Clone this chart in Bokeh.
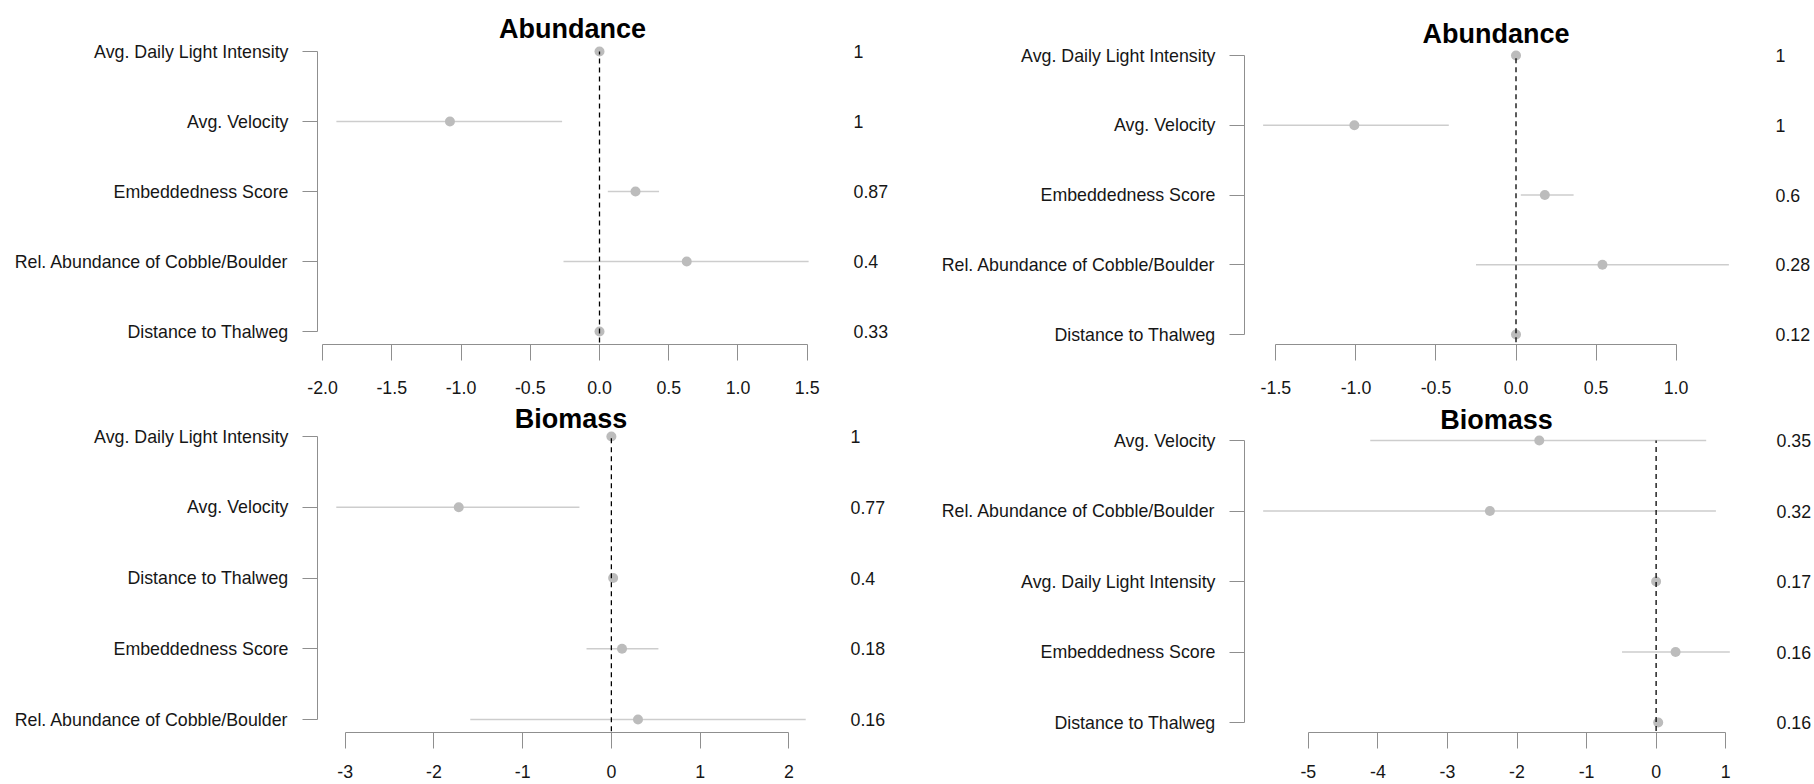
from bokeh.plotting import figure
from bokeh.models import ColumnDataSource, FixedTicker, LinearAxis, Range1d
from bokeh.layouts import column, row
from bokeh.embed import file_html
from bokeh.resources import INLINE

# ---------------- data ----------------
titles = ["Abundance", "Abundance", "Biomass", "Biomass"]

p1_vars = ["Avg. Daily Light Intensity", "Avg. Velocity", "Embeddedness Score",
           "Rel. Abundance of Cobble/Boulder", "Distance to Thalweg"]
p1_est = [0.0, -1.08, 0.26, 0.63, 0.0]
p1_lo = [-0.01, -1.90, 0.06, -0.26, -0.01]
p1_hi = [0.01, -0.27, 0.43, 1.51, 0.01]
p1_prob = ["1", "1", "0.87", "0.4", "0.33"]
p1_ticks = [-2.0, -1.5, -1.0, -0.5, 0.0, 0.5, 1.0, 1.5]
p1_tick_labels = ["-2.0", "-1.5", "-1.0", "-0.5", "0.0", "0.5", "1.0", "1.5"]

p2_vars = ["Avg. Daily Light Intensity", "Avg. Velocity", "Embeddedness Score",
           "Rel. Abundance of Cobble/Boulder", "Distance to Thalweg"]
p2_est = [0.0, -1.01, 0.18, 0.54, 0.0]
p2_lo = [-0.01, -1.58, 0.03, -0.25, -0.01]
p2_hi = [0.01, -0.42, 0.36, 1.33, 0.01]
p2_prob = ["1", "1", "0.6", "0.28", "0.12"]
p2_ticks = [-1.5, -1.0, -0.5, 0.0, 0.5, 1.0]
p2_tick_labels = ["-1.5", "-1.0", "-0.5", "0.0", "0.5", "1.0"]

p3_vars = ["Avg. Daily Light Intensity", "Avg. Velocity", "Distance to Thalweg",
           "Embeddedness Score", "Rel. Abundance of Cobble/Boulder"]
p3_est = [0.0, -1.72, 0.02, 0.12, 0.30]
p3_lo = [-0.02, -3.10, -0.02, -0.28, -1.59]
p3_hi = [0.02, -0.36, 0.05, 0.53, 2.19]
p3_prob = ["1", "0.77", "0.4", "0.18", "0.16"]
p3_ticks = [-3, -2, -1, 0, 1, 2]
p3_tick_labels = ["-3", "-2", "-1", "0", "1", "2"]

p4_vars = ["Avg. Velocity", "Rel. Abundance of Cobble/Boulder", "Avg. Daily Light Intensity",
           "Embeddedness Score", "Distance to Thalweg"]
p4_est = [-1.68, -2.39, 0.0, 0.28, 0.03]
p4_lo = [-4.11, -5.65, -0.02, -0.49, 0.0]
p4_hi = [0.72, 0.86, 0.02, 1.06, 0.05]
p4_prob = ["0.35", "0.32", "0.17", "0.16", "0.16"]
p4_ticks = [-5, -4, -3, -2, -1, 0, 1]
p4_tick_labels = ["-5", "-4", "-3", "-2", "-1", "0", "1"]

# ---------------- style ----------------
FONT = "Liberation Sans"
AXIS_COL = "#8f8f8f"
TEXT_COL = "#161616"
LAB_SIZE = "17.8px"


def make_panel(title, variables, est, lo, hi, probs, ticks, tick_labels,
               width, height, bl, br, bt, bb, x_standoff, r_standoff, t_standoff,
               pad_top_px, pad_bot_px):
    n = len(variables)
    ys = [n - i for i in range(n)]
    lo_all, hi_all = min(lo), max(hi)
    pad = 0.04 * (hi_all - lo_all)
    # vertical padding (in px) converted to row units
    frame_h = height - bt - bb
    spacing = (frame_h - pad_top_px - pad_bot_px) / (n - 1)
    y_start = 1 - pad_bot_px / spacing
    y_end = n + pad_top_px / spacing
    p = figure(width=width, height=height,
               x_range=Range1d(lo_all - pad, hi_all + pad),
               y_range=Range1d(y_start, y_end),
               output_backend="svg", toolbar_location=None,
               min_border_left=bl, min_border_right=br,
               min_border_top=bt, min_border_bottom=bb)
    p.outline_line_color = None
    p.grid.visible = False
    p.background_fill_color = "white"
    p.border_fill_color = "white"

    p.title.text = title
    p.title.align = "center"
    p.title.text_font = FONT
    p.title.text_font_style = "bold"
    p.title.text_font_size = "27px"
    p.title.text_color = "black"
    p.title.standoff = t_standoff

    src = ColumnDataSource(dict(y=ys, est=est, lo=lo, hi=hi))
    p.segment(x0="lo", x1="hi", y0="y", y1="y", source=src,
              line_color="#cdcdcd", line_width=1.5)
    p.scatter(x="est", y="y", source=src, size=10,
              fill_color="#bcbcbc", line_color=None)
    p.segment(x0=[0], x1=[0], y0=[y_start - 1], y1=[n],
              line_color="black", line_dash="5 4", line_width=1.3)

    xa = p.xaxis[0]
    xa.ticker = FixedTicker(ticks=ticks)
    xa.major_label_overrides = {t: l for t, l in zip(ticks, tick_labels)}
    xa.bounds = (ticks[0], ticks[-1])
    xa.axis_line_color = AXIS_COL
    xa.major_tick_line_color = AXIS_COL
    xa.minor_tick_line_color = None
    xa.major_tick_out = 16
    xa.major_tick_in = 0
    xa.major_label_standoff = x_standoff
    xa.major_label_text_font = FONT
    xa.major_label_text_font_size = LAB_SIZE
    xa.major_label_text_color = TEXT_COL

    ya = p.yaxis[0]
    ya.ticker = FixedTicker(ticks=ys)
    ya.major_label_overrides = {y: v for y, v in zip(ys, variables)}
    ya.bounds = (1, n)
    ya.axis_line_color = AXIS_COL
    ya.major_tick_line_color = AXIS_COL
    ya.minor_tick_line_color = None
    ya.major_tick_out = 15
    ya.major_tick_in = 0
    ya.major_label_standoff = 14
    ya.major_label_text_font = FONT
    ya.major_label_text_font_size = LAB_SIZE
    ya.major_label_text_color = TEXT_COL

    ra = LinearAxis(ticker=FixedTicker(ticks=ys),
                    major_label_overrides={y: v for y, v in zip(ys, probs)},
                    axis_line_color=None, major_tick_line_color=None,
                    minor_tick_line_color=None, major_tick_out=0, major_tick_in=0,
                    major_label_standoff=r_standoff,
                    major_label_text_font=FONT,
                    major_label_text_font_size=LAB_SIZE,
                    major_label_text_color=TEXT_COL)
    p.add_layout(ra, "right")
    return p


p1 = make_panel(titles[0], p1_vars, p1_est, p1_lo, p1_hi, p1_prob, p1_ticks, p1_tick_labels,
                915, 400, 317, 88, 42, 56, 20, 26, -2, 9, 13)
p2 = make_panel(titles[1], p2_vars, p2_est, p2_lo, p2_hi, p2_prob, p2_ticks, p2_tick_labels,
                899, 400, 329, 67, 42, 56, 20, 28, -12, 13, 10)
p3 = make_panel(titles[2], p3_vars, p3_est, p3_lo, p3_hi, p3_prob, p3_ticks, p3_tick_labels,
                915, 384, 317, 91, 27, 52, 16, 26, -12, 9, 13)
p4 = make_panel(titles[3], p4_vars, p4_est, p4_lo, p4_hi, p4_prob, p4_ticks, p4_tick_labels,
                899, 384, 329, 66, 27, 52, 16, 28, -15, 13, 10)

layout = column(row(p1, p2), row(p3, p4))
open("out.html", "w").write(file_html(layout, INLINE))
